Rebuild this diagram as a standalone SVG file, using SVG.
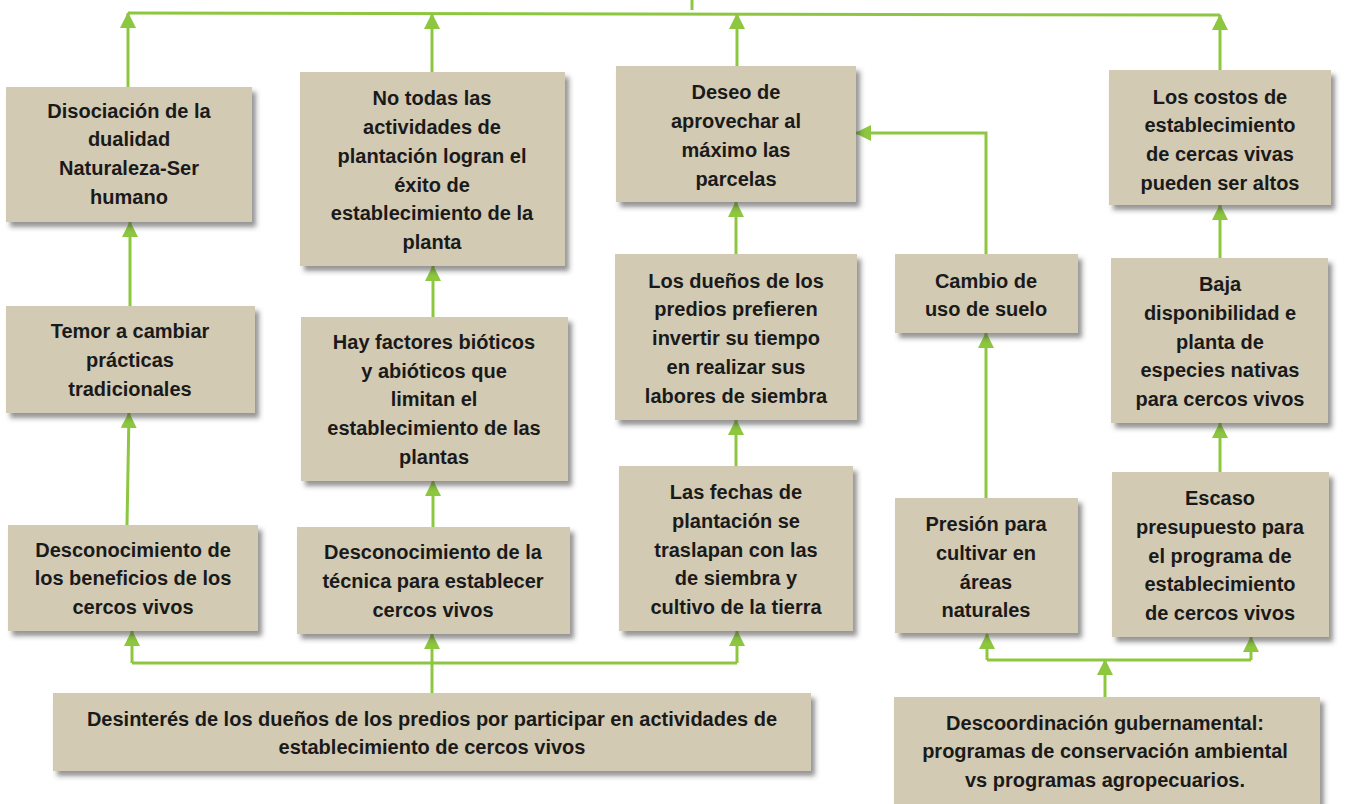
<svg xmlns="http://www.w3.org/2000/svg" width="1346" height="804" viewBox="0 0 1346 804">
<defs>
<style>
.box{fill:#D3CAB4;filter:url(#sh);}
.t{font-family:"Liberation Sans",Arial,sans-serif;font-weight:bold;font-size:20px;fill:#1a1a1a;text-anchor:middle;}
.c{fill:none;stroke:#8DC63F;stroke-width:3;}
.a{marker-end:url(#ah);}
</style>
<filter id="sh" x="-10%" y="-10%" width="125%" height="130%">
<feDropShadow dx="4" dy="5" stdDeviation="2.5" flood-color="#3a3a3a" flood-opacity="0.55"/>
</filter>
<marker id="ah" viewBox="0 0 16 16" markerWidth="16" markerHeight="16" refX="15" refY="8" orient="auto" markerUnits="userSpaceOnUse">
<path d="M0,0 L16,8 L0,16 z" fill="#8DC63F"/>
</marker>
</defs>
<rect width="1346" height="804" fill="#ffffff"/>

<g id="connectors">
<path class="c" d="M128,13 L1220,15"/>
<path class="c" d="M692,0 V10"/>
<path class="c a" d="M128,87 V13"/>
<path class="c a" d="M432,72 V14"/>
<path class="c a" d="M737,66 V14"/>
<path class="c a" d="M1220,70 V15"/>
<path class="c a" d="M130,306 V222"/>
<path class="c a" d="M127,525 L129,413"/>
<path class="c a" d="M433,317 V266"/>
<path class="c a" d="M433,527 V481"/>
<path class="c a" d="M736,466 V420"/>
<path class="c a" d="M736,254 V202"/>
<path class="c a" d="M986,254 V133 H856"/>
<path class="c a" d="M986,498 V333"/>
<path class="c a" d="M1220,258 V205"/>
<path class="c a" d="M1220,472 V423"/>
<path class="c a" d="M432,693 V634"/>
<path class="c" d="M132,663 H737"/>
<path class="c a" d="M132,663 V631"/>
<path class="c a" d="M737,663 V631"/>
<path class="c a" d="M1105,697 V660"/>
<path class="c" d="M987,660 H1251"/>
<path class="c a" d="M987,660 V634"/>
<path class="c a" d="M1251,660 V637"/>
</g>

<g id="n-disociacion">
<rect class="box" x="6" y="87" width="246" height="135"/>
<text class="t"><tspan x="129" y="118">Disociación de la</tspan><tspan x="129" y="146">dualidad</tspan><tspan x="129" y="175">Naturaleza-Ser</tspan><tspan x="129" y="204">humano</tspan></text>
</g>
<g id="n-notodas">
<rect class="box" x="300" y="72" width="265" height="194"/>
<text class="t"><tspan x="432" y="105">No todas las</tspan><tspan x="432" y="134">actividades de</tspan><tspan x="432" y="163">plantación logran  el</tspan><tspan x="432" y="192">éxito de</tspan><tspan x="432" y="220">establecimiento de  la</tspan><tspan x="432" y="249">planta</tspan></text>
</g>
<g id="n-deseo">
<rect class="box" x="616" y="66" width="240" height="136"/>
<text class="t"><tspan x="736" y="99">Deseo de</tspan><tspan x="736" y="128">aprovechar al</tspan><tspan x="736" y="157">máximo las</tspan><tspan x="736" y="186">parcelas</tspan></text>
</g>
<g id="n-costos">
<rect class="box" x="1109" y="70" width="222" height="135"/>
<text class="t"><tspan x="1220" y="104">Los costos de</tspan><tspan x="1220" y="132">establecimiento</tspan><tspan x="1220" y="161">de cercas vivas</tspan><tspan x="1220" y="190">pueden ser altos</tspan></text>
</g>
<g id="n-temor">
<rect class="box" x="6" y="306" width="249" height="107"/>
<text class="t"><tspan x="130" y="338">Temor a cambiar</tspan><tspan x="130" y="367">prácticas</tspan><tspan x="130" y="396">tradicionales</tspan></text>
</g>
<g id="n-factores">
<rect class="box" x="301" y="317" width="267" height="164"/>
<text class="t"><tspan x="434" y="349">Hay factores bióticos</tspan><tspan x="434" y="378">y abióticos que</tspan><tspan x="434" y="406">limitan el</tspan><tspan x="434" y="435">establecimiento de las</tspan><tspan x="434" y="464">plantas</tspan></text>
</g>
<g id="n-duenos">
<rect class="box" x="615" y="254" width="242" height="166"/>
<text class="t"><tspan x="736" y="288">Los dueños de los</tspan><tspan x="736" y="316">predios prefieren</tspan><tspan x="736" y="345">invertir su tiempo</tspan><tspan x="736" y="374">en realizar sus</tspan><tspan x="736" y="403">labores de siembra</tspan></text>
</g>
<g id="n-cambio">
<rect class="box" x="895" y="254" width="183" height="79"/>
<text class="t"><tspan x="986" y="288">Cambio de</tspan><tspan x="986" y="316">uso de suelo</tspan></text>
</g>
<g id="n-baja">
<rect class="box" x="1111" y="258" width="217" height="165"/>
<text class="t"><tspan x="1220" y="291">Baja</tspan><tspan x="1220" y="320">disponibilidad e</tspan><tspan x="1220" y="349">planta de</tspan><tspan x="1220" y="377">especies nativas</tspan><tspan x="1220" y="406">para cercos vivos</tspan></text>
</g>
<g id="n-desc-beneficios">
<rect class="box" x="8" y="525" width="250" height="106"/>
<text class="t"><tspan x="133" y="557">Desconocimiento de</tspan><tspan x="133" y="585">los beneficios de los</tspan><tspan x="133" y="614">cercos vivos</tspan></text>
</g>
<g id="n-desc-tecnica">
<rect class="box" x="297" y="527" width="273" height="107"/>
<text class="t"><tspan x="433" y="559">Desconocimiento de la</tspan><tspan x="433" y="588">técnica para establecer</tspan><tspan x="433" y="617">cercos vivos</tspan></text>
</g>
<g id="n-fechas">
<rect class="box" x="619" y="466" width="234" height="165"/>
<text class="t"><tspan x="736" y="499">Las fechas de</tspan><tspan x="736" y="528">plantación se</tspan><tspan x="736" y="557">traslapan con las</tspan><tspan x="736" y="585">de siembra y</tspan><tspan x="736" y="614">cultivo de la tierra</tspan></text>
</g>
<g id="n-presion">
<rect class="box" x="895" y="498" width="183" height="135"/>
<text class="t"><tspan x="986" y="531">Presión para</tspan><tspan x="986" y="560">cultivar en</tspan><tspan x="986" y="589">áreas</tspan><tspan x="986" y="617">naturales</tspan></text>
</g>
<g id="n-escaso">
<rect class="box" x="1112" y="472" width="217" height="165"/>
<text class="t"><tspan x="1220" y="505">Escaso</tspan><tspan x="1220" y="534">presupuesto para</tspan><tspan x="1220" y="563">el programa de</tspan><tspan x="1220" y="591">establecimiento</tspan><tspan x="1220" y="620">de cercos vivos</tspan></text>
</g>
<g id="n-desinteres">
<rect class="box" x="53" y="693" width="758" height="78"/>
<text class="t"><tspan x="432" y="726">Desinterés de los dueños de los predios por participar en actividades de</tspan><tspan x="432" y="754">establecimiento de cercos vivos</tspan></text>
</g>
<g id="n-descoordinacion">
<rect class="box" x="894" y="697" width="426" height="110"/>
<text class="t"><tspan x="1105" y="730">Descoordinación gubernamental:</tspan><tspan x="1105" y="758">programas de conservación ambiental</tspan><tspan x="1105" y="787">vs programas agropecuarios.</tspan></text>
</g>
</svg>
